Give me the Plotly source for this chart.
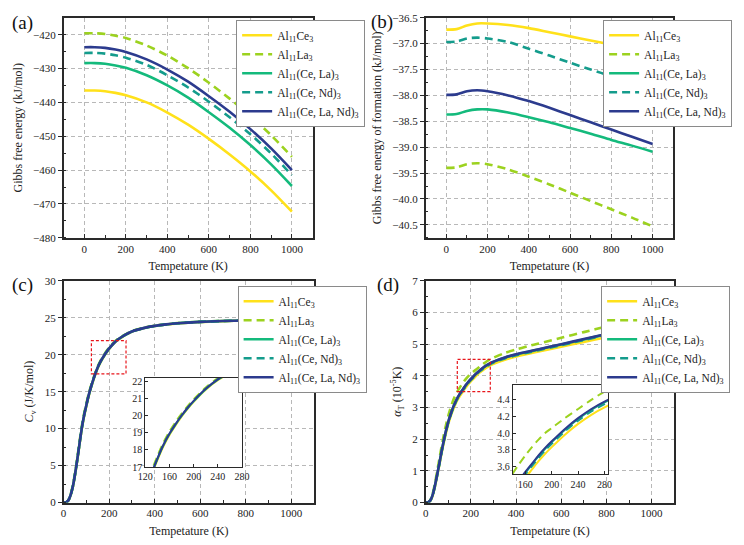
import plotly.graph_objects as go

# ---------------- data ----------------
names = ["Al<sub>11</sub>Ce<sub>3</sub>", "Al<sub>11</sub>La<sub>3</sub>",
         "Al<sub>11</sub>(Ce, La)<sub>3</sub>", "Al<sub>11</sub>(Ce, Nd)<sub>3</sub>",
         "Al<sub>11</sub>(Ce, La, Nd)<sub>3</sub>"]

# (a) Gibbs free energy (kJ/mol)
T_g = [0, 50, 100, 150, 200, 300, 400, 500, 600, 700, 800, 900, 1000]
G_Ce3 = [-436.5, -436.5, -436.7, -437.2, -437.9, -440.0, -443.0, -446.6, -450.8, -455.4, -460.4, -466.0, -472.3]
G_La3 = [-419.6, -419.6, -419.8, -420.3, -421.0, -423.2, -426.2, -429.9, -434.2, -438.9, -444.0, -449.7, -456.1]
G_CeLa = [-428.4, -428.4, -428.6, -429.1, -429.8, -432.0, -435.0, -438.6, -442.9, -447.5, -452.6, -458.3, -464.7]
G_CeNd = [-425.4, -425.4, -425.6, -426.1, -426.8, -428.9, -432.0, -435.6, -439.8, -444.4, -449.4, -455.1, -461.5]
G_CeLaNd = [-423.7, -423.7, -423.9, -424.4, -425.1, -427.3, -430.3, -433.9, -438.2, -442.8, -447.9, -453.6, -460.0]

# (b) Gibbs free energy of formation (kJ/mol)
F_Ce3 = [-36.73, -36.72, -36.65, -36.61, -36.61, -36.64, -36.70, -36.78, -36.86, -36.94, -37.02, -37.10, -37.18]
F_La3 = [-39.40, -39.39, -39.33, -39.31, -39.33, -39.43, -39.57, -39.72, -39.88, -40.04, -40.20, -40.36, -40.53]
F_CeLa = [-38.37, -38.36, -38.30, -38.27, -38.27, -38.33, -38.42, -38.52, -38.63, -38.74, -38.86, -38.97, -39.09]
F_CeNd = [-36.97, -36.96, -36.90, -36.885, -36.90, -36.97, -37.10, -37.23, -37.37, -37.50, -37.63, -37.76, -37.89]
F_CeLaNd = [-37.99, -37.98, -37.92, -37.90, -37.92, -38.00, -38.11, -38.24, -38.38, -38.52, -38.66, -38.80, -38.94]

# (c) Cv (J/K/mol) and (d) alpha_T (1e-5/K)
T_c = [0, 10, 20, 30, 40, 50, 60, 70, 80, 90, 100, 110, 120, 130, 140, 150, 160, 170, 180, 190,
       200, 220, 240, 260, 280, 300, 350, 400, 450, 500, 600, 700, 800, 900, 1000]
Cv_Ce3 = [0, 0.02, 0.23, 0.9, 2.02, 3.7, 5.68, 7.88, 9.98, 11.68, 13.08, 14.39, 15.5, 16.5, 17.41, 18.21, 18.87, 19.42, 19.93, 20.38,
          20.79, 21.5, 22.05, 22.46, 22.81, 23.12, 23.57, 23.88, 24.08, 24.24, 24.44, 24.55, 24.62, 24.67, 24.71]
Cv_La3 = [0, 0.03, 0.28, 1.03, 2.25, 4.0, 6.05, 8.25, 10.35, 12.05, 13.42, 14.7, 15.78, 16.76, 17.65, 18.44, 19.08, 19.62, 20.11, 20.55,
          20.94, 21.63, 22.17, 22.56, 22.9, 23.2, 23.64, 23.93, 24.12, 24.27, 24.46, 24.57, 24.64, 24.69, 24.73]
Cv_CeLa = [0, 0.02, 0.24, 0.93, 2.08, 3.77, 5.77, 7.97, 10.07, 11.77, 13.17, 14.47, 15.57, 16.57, 17.47, 18.27, 18.92, 19.47, 19.97, 20.42,
           20.82, 21.53, 22.08, 22.48, 22.83, 23.14, 23.59, 23.89, 24.09, 24.25, 24.45, 24.56, 24.63, 24.68, 24.72]
Cv_CeNd = [0, 0.02, 0.25, 0.96, 2.12, 3.82, 5.83, 8.03, 10.13, 11.83, 13.22, 14.52, 15.62, 16.62, 17.52, 18.32, 18.96, 19.51, 20.01, 20.46,
           20.86, 21.56, 22.11, 22.51, 22.86, 23.16, 23.61, 23.9, 24.1, 24.25, 24.45, 24.56, 24.63, 24.68, 24.72]
Cv_CeLaNd = [0, 0.02, 0.25, 0.95, 2.1, 3.8, 5.8, 8.0, 10.1, 11.8, 13.2, 14.5, 15.6, 16.6, 17.5, 18.3, 18.95, 19.5, 20.0, 20.45,
             20.85, 21.55, 22.1, 22.5, 22.85, 23.15, 23.6, 23.9, 24.1, 24.25, 24.45, 24.56, 24.63, 24.68, 24.72]

A_Ce3 = [0, 0.005, 0.05, 0.2, 0.47, 0.81, 1.17, 1.54, 1.89, 2.2, 2.48, 2.71, 2.91, 3.08, 3.23, 3.35, 3.46, 3.56, 3.66, 3.75,
         3.83, 3.98, 4.11, 4.22, 4.31, 4.38, 4.51, 4.61, 4.69, 4.77, 4.92, 5.07, 5.22, 5.37, 5.52]
A_La3 = [0, 0.006, 0.07, 0.25, 0.57, 0.95, 1.35, 1.75, 2.12, 2.45, 2.74, 2.98, 3.19, 3.36, 3.5, 3.62, 3.73, 3.83, 3.92, 4.0,
         4.06, 4.18, 4.29, 4.4, 4.5, 4.57, 4.72, 4.83, 4.93, 5.02, 5.2, 5.38, 5.56, 5.74, 5.92]
A_CeLa = [0, 0.005, 0.06, 0.22, 0.5, 0.84, 1.21, 1.59, 1.94, 2.26, 2.54, 2.77, 2.97, 3.14, 3.29, 3.41, 3.52, 3.62, 3.72, 3.81,
          3.89, 4.04, 4.17, 4.28, 4.37, 4.44, 4.57, 4.67, 4.75, 4.83, 4.99, 5.15, 5.31, 5.47, 5.63]
A_CeNd = [0, 0.005, 0.06, 0.21, 0.49, 0.83, 1.2, 1.58, 1.93, 2.24, 2.52, 2.75, 2.95, 3.12, 3.27, 3.39, 3.5, 3.6, 3.7, 3.79,
          3.87, 4.02, 4.15, 4.26, 4.35, 4.42, 4.55, 4.65, 4.73, 4.81, 4.97, 5.13, 5.29, 5.45, 5.61]
A_CeLaNd = [0, 0.005, 0.06, 0.22, 0.5, 0.85, 1.22, 1.6, 1.95, 2.27, 2.55, 2.78, 2.98, 3.15, 3.3, 3.42, 3.53, 3.63, 3.73, 3.82,
            3.9, 4.05, 4.18, 4.29, 4.38, 4.45, 4.58, 4.68, 4.76, 4.84, 5.0, 5.16, 5.32, 5.48, 5.64]

G_all = [G_Ce3, G_La3, G_CeLa, G_CeNd, G_CeLaNd]
F_all = [F_Ce3, F_La3, F_CeLa, F_CeNd, F_CeLaNd]
Cv_all = [Cv_Ce3, Cv_La3, Cv_CeLa, Cv_CeNd, Cv_CeLaNd]
A_all = [A_Ce3, A_La3, A_CeLa, A_CeNd, A_CeLaNd]

# zoom windows
inset_c_x = [120, 280]
inset_c_y = [17, 22.2]
box_c_x = [122, 274]
box_c_y = [17.4, 21.9]
inset_d_x = [141, 286]
inset_d_y = [3.5, 4.58]
box_d_x = [140, 286]
box_d_y = [3.5, 4.52]

# ---------------- style ----------------
colors = ["#FFE11A", "#9CD21F", "#14BA7C", "#149C8C", "#2C3B8E"]
dashes = ["solid", "8px,5px", "solid", "8px,5px", "solid"]
FONT = "Liberation Serif, Times New Roman, serif"
W, H = 744, 545

fig = go.Figure()

def add_series(xs, ys_all, xa, ya, legend, show, width=2.6):
    for i in range(5):
        fig.add_trace(go.Scatter(
            x=xs, y=ys_all[i], mode="lines", name=names[i],
            line=dict(color=colors[i], width=width, dash=dashes[i], shape="spline", smoothing=0.8),
            xaxis=xa, yaxis=ya, legend=legend, showlegend=show))

add_series(T_g, G_all, "x", "y", "legend", True)
add_series(T_g, F_all, "x2", "y2", "legend2", True)
add_series(T_c, Cv_all, "x3", "y3", "legend3", True)
add_series(T_c, A_all, "x4", "y4", "legend4", True)
add_series(T_c, Cv_all, "x5", "y5", "legend3", False, width=2.0)
add_series(T_c, A_all, "x6", "y6", "legend4", False, width=2.0)

def px_x(a, b):
    return [a / W, b / W]

def px_y(top, bottom):
    return [1 - bottom / H, 1 - top / H]

grid = dict(showgrid=True, gridcolor="#b8b8b8", gridwidth=1, griddash="4px,3px")
line = dict(showline=True, linecolor="#2a2a2a", linewidth=1.5, mirror=True, zeroline=False)
tickf = dict(family=FONT, size=11, color="#222")
titlef = dict(family=FONT, size=12, color="#222")

def xmain(dom, rng, anchor):
    d = dict(domain=dom, range=rng, anchor=anchor, tick0=0, dtick=200, ticks="inside", ticklen=4,
             tickcolor="#2a2a2a", minor=dict(dtick=100, ticks="inside", ticklen=3, tickcolor="#2a2a2a"),
             tickfont=tickf, title=dict(text="Tempetature (K)", font=titlef, standoff=8))
    d.update(grid); d.update(line)
    return d

def ymain(dom, rng, anchor, dtick, title, fmt=None):
    d = dict(domain=dom, range=rng, anchor=anchor, dtick=dtick, ticks="outside", ticklen=4,
             tickcolor="#2a2a2a", minor=dict(dtick=dtick / 2, ticks="inside", ticklen=3, tickcolor="#2a2a2a"),
             tickfont=tickf, title=dict(text=title, font=titlef, standoff=8))
    if fmt:
        d["tickformat"] = fmt
    d.update(grid); d.update(line)
    return d

def inset_ax(dom, rng, anchor, dtick, tick0=0, fmt=None):
    d = dict(domain=dom, range=rng, anchor=anchor, dtick=dtick, tick0=tick0, ticks="inside", ticklen=3,
             tickcolor="#2a2a2a", tickfont=dict(family=FONT, size=10, color="#222"), showgrid=False,
             showline=True, linecolor="#2a2a2a", linewidth=1.3, mirror=True, zeroline=False)
    if fmt:
        d["tickformat"] = fmt
    return d

yA = px_y(12, 237)
yC = px_y(281, 507.7)

fig.update_layout(
    width=W, height=H, margin=dict(l=0, r=0, t=0, b=0), autosize=False,
    paper_bgcolor="white", plot_bgcolor="white",
    font=dict(family=FONT, size=11, color="#222"),
    xaxis=xmain(px_x(57.7, 311.5), [-100, 1100], "y"),
    yaxis=ymain(yA, [-480, -415], "x", 10, "Gibbs free energy (kJ/mol)"),
    xaxis2=xmain(px_x(426.7, 679), [-100, 1100], "y2"),
    yaxis2=ymain(yA, [-40.75, -36.5], "x2", 0.5, "Gibbs free energy of formation (kJ/mol)", ".1f"),
    xaxis3=xmain(px_x(57.7, 313), [0, 1100], "y3"),
    yaxis3=ymain(yC, [0, 30], "x3", 5, "<i>C</i><sub>v</sub> (J/K/mol)"),
    xaxis4=xmain(px_x(426.7, 680), [0, 1100], "y4"),
    yaxis4=ymain(yC, [0, 7], "x4", 1, "<i>α</i><sub>T</sub> (10<sup>-5</sup>K)"),
    xaxis5=inset_ax(px_x(141, 239.5), inset_c_x, "y5", 40),
    yaxis5=inset_ax(px_y(380, 471.5), inset_c_y, "x5", 1),
    xaxis6=inset_ax(px_x(515.5, 613), inset_d_x, "y6", 40),
    yaxis6=inset_ax(px_y(387.5, 479), inset_d_y, "x6", 0.2, fmt=".1f"),
)

leg = dict(bgcolor="white", bordercolor="#8a8a8a", borderwidth=1,
           font=dict(family=FONT, size=11.5, color="#222"), xanchor="right", yanchor="top",
           itemwidth=30, tracegroupgap=0)
fig.update_layout(
    legend=dict(leg, x=365 / W, y=1 - 14 / H),
    legend2=dict(leg, x=739 / W, y=1 - 14 / H),
    legend3=dict(leg, x=366.5 / W, y=1 - 286 / H),
    legend4=dict(leg, x=737 / W, y=1 - 286 / H),
)

# zoom boxes
fig.add_shape(type="rect", xref="x3", yref="y3", x0=box_c_x[0], x1=box_c_x[1], y0=box_c_y[0], y1=box_c_y[1],
              line=dict(color="#E8141A", width=1.2, dash="3px,2px"))
fig.add_shape(type="rect", xref="x4", yref="y4", x0=box_d_x[0], x1=box_d_x[1], y0=box_d_y[0], y1=box_d_y[1],
              line=dict(color="#E8141A", width=1.2, dash="3px,2px"))

# panel labels
for lab, x, y in [("(a)", 16, 17), ("(b)", 382, 16), ("(c)", 16, 285), ("(d)", 388, 285)]:
    fig.add_annotation(text=lab, xref="paper", yref="paper", x=x / W, y=1 - y / H,
                       xanchor="center", yanchor="middle", showarrow=False,
                       font=dict(family=FONT, size=19, color="#111"))

fig.write_html("out.html")
